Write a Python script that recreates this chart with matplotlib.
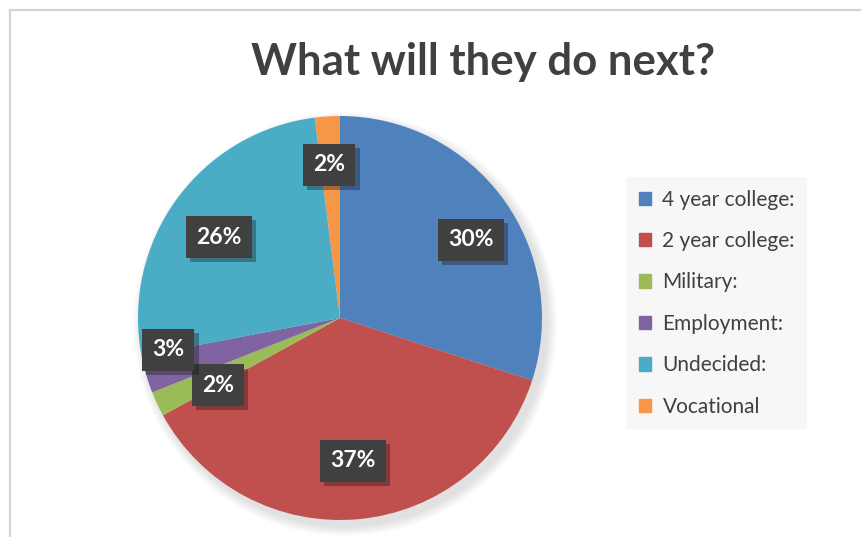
import numpy as np
import matplotlib.pyplot as plt
from matplotlib.patches import Circle, Rectangle
import matplotlib.patheffects as pe

categories = ["4 year college:", "2 year college:", "Military:", "Employment:", "Undecided:", "Vocational"]
percents = [30, 37, 2, 3, 26, 2]
colors = ["#4F81BD", "#C0504D", "#9BBB59", "#8064A2", "#4BACC6", "#F79646"]
# label placement (fraction of radius, clockwise angle shift in degrees)
label_dist = [0.755, 0.71, 0.69, 0.866, 0.72, 0.76]
label_shift = [5.2, 0.2, -3.6, 5.7, -2.2, -0.5]

W, H = 861, 537
fig = plt.figure(figsize=(W / 100, H / 100), dpi=100)
ax = fig.add_axes([0, 0, 1, 1])

# chart frame (only top/left visible)
ax.add_patch(Rectangle((10, -20), W + 40, H - 10 + 20, fill=False, edgecolor='#d4d4d4', lw=1.6))

cx, cy, r = 340, H - 318, 202

# soft shadow under the pie
for k in range(10):
    ax.add_patch(Circle((cx + 5, cy - 6), r + 10 - k, color='black', alpha=0.012, lw=0))

wedges, _ = ax.pie(percents, colors=colors, startangle=90, counterclock=False,
                   center=(cx, cy), radius=r, wedgeprops=dict(lw=0))
ax.set_xlim(0, W)
ax.set_ylim(0, H)
ax.set_aspect('equal')
ax.axis('off')

for w, p, d, s in zip(wedges, percents, label_dist, label_shift):
    th = np.radians((w.theta1 + w.theta2) / 2 - s)
    t = ax.text(cx + r * d * np.cos(th), cy + r * d * np.sin(th), f"{p}%",
                ha='center', va='center', color='white', fontsize=16.5, fontweight='bold',
                family='Lato',
                bbox=dict(boxstyle='square,pad=0.45', fc='#404040', ec='none'))
    t.get_bbox_patch().set_path_effects([pe.SimplePatchShadow(offset=(3, -3), alpha=0.35), pe.Normal()])

ax.text(483, H - 62, "What will they do next?", ha='center', va='center',
        fontsize=31.5, fontweight='bold', color='#404040', family='Lato')

handles = [Rectangle((0, 0), 1, 1, color=c) for c in colors]
leg = ax.legend(handles, categories, loc='upper left',
                bbox_to_anchor=(626 / W, 1 - 177 / H), bbox_transform=fig.transFigure,
                frameon=True, fancybox=False, fontsize=15, handlelength=0.6, handleheight=0.6,
                handletextpad=0.55, labelspacing=1.03, borderpad=0.6, borderaxespad=0)
leg.get_frame().set_facecolor('#f6f6f6')
leg.get_frame().set_edgecolor('none')
for txt in leg.get_texts():
    txt.set_color('#404040')
    txt.set_family('Lato')

fig.savefig('out.png', dpi=100)
